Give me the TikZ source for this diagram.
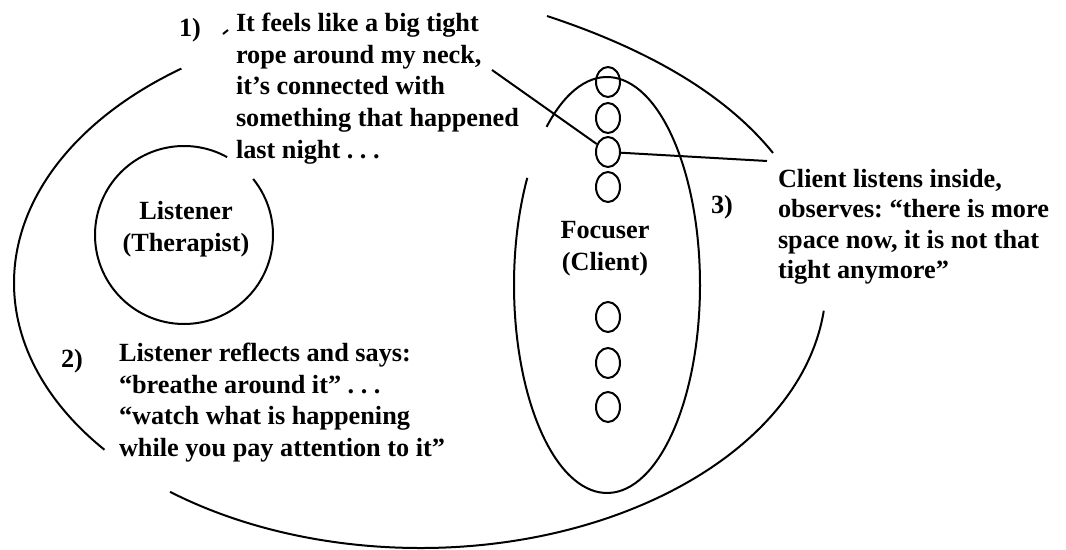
\documentclass[tikz,border=0pt]{standalone}
\usepackage{fontspec}
\setmainfont{Liberation Serif}
\usetikzlibrary{shapes.geometric}
\frenchspacing

\begin{document}
\begin{tikzpicture}[x=0.4pt,y=-0.4pt,line width=0.8pt,
    txt/.style={anchor=north west,align=left,inner sep=0pt,font=\bfseries\fontsize{10.5}{12.7}\selectfont},
    lbl/.style={align=center,inner sep=0pt,font=\bfseries\fontsize{10.5}{12.8}\selectfont},
    spot/.style={draw,ellipse,inner sep=0pt,minimum width=9.6pt,minimum height=12pt}]
  \useasboundingbox (0,0) rectangle (1066,550);
  \coordinate (o) at (420,283);
  % outer field, broken where the texts are
  \draw (o) ++(234:406 and 265) arc[start angle=234,end angle=141,x radius=406,y radius=265];
  \draw (o) ++(6:406 and 265) arc[start angle=6,end angle=128,x radius=406,y radius=265];
  \draw (547,16) .. controls (650,50) and (726,95) .. (773,153);
  \draw (223,34) -- (228,30);

  % listener and focuser
  \draw (184,235) ++(-39:89) arc[start angle=-39,end angle=299,radius=89];
  \draw (607,285) ++(229.5:93 and 208) arc[start angle=229.5,end angle=571,x radius=93,y radius=208];
  \node[lbl] (listener) at (186,229) {Listener\\(Therapist)};
  \node[lbl] (focuser) at (605,249) {Focuser\\(Client)};

  \foreach \y [count=\i] in {82,118,152,187,317,363,407} {
    \node[spot] (c\i) at (608,\y) {};
  }

  \node[lbl] (one) at (190,30) {1)};
  \node[lbl] (two) at (72,361) {2)};
  \node[lbl] (three) at (722,207) {3)};

  \node[txt] (rope) at (235,12) {It feels like a big tight\\rope around my neck,\\it’s connected with\\something that happened\\last night . . .};
  \node[txt] (reflect) at (118,342) {Listener reflects and says:\\“breathe around it” . . .\\“watch what is happening\\while you pay attention to it”};
  \node[txt,font=\bfseries\fontsize{10.5}{12.2}\selectfont] (inside) at (777,168) {Client listens inside,\\observes: “there is more\\space now, it is not that\\tight anymore”};

  \coordinate (neck) at (492,70);
  \coordinate (obs) at (767,161);
  \draw (neck) -- (c3);
  \draw (c3) -- (obs);
\end{tikzpicture}
\end{document}
